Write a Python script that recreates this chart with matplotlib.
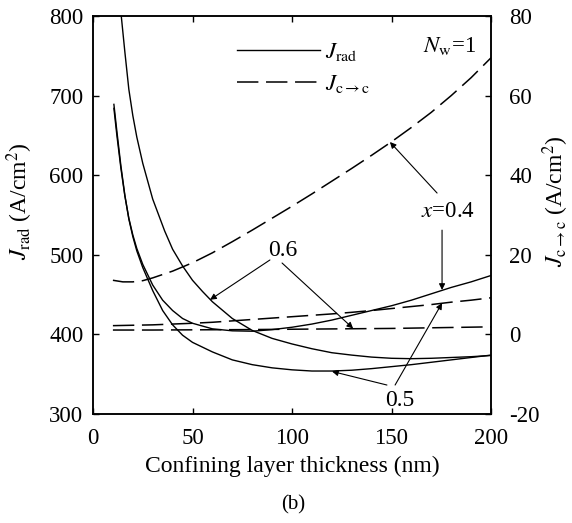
import numpy as np
import matplotlib.pyplot as plt

plt.rcParams['font.family'] = ['Liberation Serif', 'DejaVu Serif']
plt.rcParams['mathtext.fontset'] = 'stix'
plt.rcParams['font.size'] = 16.5
plt.rcParams['axes.unicode_minus'] = False

# confining layer thickness (nm) and J_rad (A/cm^2), solid curves
t_rad_04 = [10.5, 12, 14, 16, 18, 20, 22, 25, 30, 35, 40, 45, 50, 60, 70, 80, 90,
            100, 110, 120, 130, 140, 150, 160, 170, 180, 190, 200]
j_rad_04 = [684, 650, 609, 574, 546, 525, 508, 488, 462, 443, 430, 420, 414, 407,
            404.5, 404, 406, 409, 413, 418, 424, 430, 436, 443, 451, 459, 466, 474]

t_rad_05 = [10.5, 12, 14, 16, 18, 20, 22, 25, 30, 35, 40, 45, 50, 60, 70, 80, 90,
            100, 110, 120, 130, 140, 150, 160, 170, 180, 190, 200]
j_rad_05 = [689, 655, 612, 575, 545, 523, 505, 484, 455, 430, 412, 399, 390, 378,
            368, 362, 358, 355.5, 354, 354, 355, 357, 359.5, 362, 365, 368, 371, 374]

t_rad_06 = [14.2, 16, 18, 20, 22, 25, 28, 30, 33, 36, 40, 45, 50, 55, 60, 70, 80,
            90, 100, 110, 120, 130, 140, 150, 160, 170, 180, 190, 200]
j_rad_06 = [800, 755, 708, 675, 648, 615, 588, 570, 550, 530, 507, 486, 468, 454,
            441, 420, 405, 395, 388, 382, 377, 374, 371.5, 370, 369.5, 370, 371,
            372, 373.5]

# J_c->c (A/cm^2), dashed curves, right axis
t_cc_04 = [10, 15, 20, 25, 30, 40, 50, 60, 70, 80, 90, 100, 110, 120, 130, 140,
           150, 160, 170, 180, 190, 200]
j_cc_04 = [13.6, 13.2, 13.2, 13.5, 14.2, 15.9, 18, 20.5, 23.3, 26.2, 29.2, 32.2,
           35.3, 38.5, 41.7, 45, 48.4, 52, 55.8, 60, 64.5, 69.5]

t_cc_05 = [10, 20, 30, 40, 50, 60, 70, 80, 90, 100, 110, 120, 130, 140, 150, 160,
           170, 180, 190, 200]
j_cc_05 = [2.2, 2.3, 2.4, 2.6, 2.8, 3.05, 3.4, 3.75, 4.1, 4.45, 4.8, 5.15, 5.55,
           6.0, 6.5, 7.0, 7.5, 8.1, 8.6, 9.2]

t_cc_06 = [10, 30, 50, 75, 100, 125, 150, 175, 200]
j_cc_06 = [1.1, 1.1, 1.15, 1.2, 1.3, 1.4, 1.5, 1.7, 1.9]

dash = (0, (14, 5))

fig = plt.figure(figsize=(5.72, 5.23), dpi=100)
ax = fig.add_axes([0.1626, 0.2084, 0.6958, 0.761])
ax2 = ax.twinx()

l_rad, = ax.plot(t_rad_04, j_rad_04, 'k-', lw=1.0)
ax.plot(t_rad_05, j_rad_05, 'k-', lw=1.0)
ax.plot(t_rad_06, j_rad_06, 'k-', lw=1.0)

l_cc, = ax2.plot(t_cc_04, j_cc_04, 'k', lw=1.1, linestyle=dash)
ax2.plot(t_cc_05, j_cc_05, 'k', lw=1.1, linestyle=dash)
ax2.plot(t_cc_06, j_cc_06, 'k', lw=1.1, linestyle=dash)

ax.set_xlim(0, 200)
ax.set_ylim(300, 800)
ax2.set_ylim(-20, 80)
ax.set_xticks(np.arange(0, 201, 50))
ax.set_yticks(np.arange(300, 801, 100))
ax2.set_yticks(np.arange(-20, 81, 20))

ax.tick_params(axis='x', direction='in', length=4, width=1, top=True, pad=10)
ax.tick_params(axis='y', direction='in', length=4, width=1, pad=7)
ax2.tick_params(axis='y', direction='in', length=4, width=1, pad=13)
for a in (ax, ax2):
    for s in a.spines.values():
        s.set_linewidth(1.1)

ax.set_xlabel('Confining layer thickness (nm)', fontsize=17, labelpad=5)
ax.set_ylabel(r'$J_{\rm rad}$ (A/cm$^2$)', fontsize=17)
ax.yaxis.set_label_coords(-0.145, 0.535)
ax2.set_ylabel(r'$J_{\rm c\rightarrow c}$ (A/cm$^2$)', fontsize=17)
ax2.yaxis.set_label_coords(1.125, 0.535)

ax.legend([l_rad, l_cc], [r'$J_{\rm rad}$', r'$J_{\rm c\rightarrow c}$'],
          loc='upper left', bbox_to_anchor=(0.31, 0.99), frameon=False,
          handlelength=3.6, handletextpad=0.25, labelspacing=0.45, fontsize=16.5)

ax.text(0.83, 0.91, r'$N_{\rm w}$=1', transform=ax.transAxes)

arrow = dict(arrowstyle='-|>', color='k', lw=0.8, mutation_scale=9,
             shrinkA=0, shrinkB=0)
ax.text(178.4, 555, r'$x$=0.4', ha='center', va='center')
ax.annotate('', xy=(149.2, 641.7), xytext=(172.9, 577.6), arrowprops=arrow)
ax.annotate('', xy=(175.4, 455.8), xytext=(175.4, 531), arrowprops=arrow)

ax.text(95.5, 505, '0.6', ha='center', va='center', fontsize=17)
ax.annotate('', xy=(58.8, 443.5), xytext=(88.9, 493.5), arrowprops=arrow)
ax.annotate('', xy=(130.7, 407.5), xytext=(95, 489.7), arrowprops=arrow)

ax.text(154.3, 317, '0.5', ha='center', va='center', fontsize=17)
ax.annotate('', xy=(120.1, 353.5), xytext=(147.7, 336.4), arrowprops=arrow)
ax.annotate('', xy=(175.4, 439.4), xytext=(151.8, 336.4), arrowprops=arrow)

fig.text(293 / 572, 1 - 505 / 523, '(b)', ha='center', va='center', fontsize=15)

fig.savefig('out.png', dpi=100)
